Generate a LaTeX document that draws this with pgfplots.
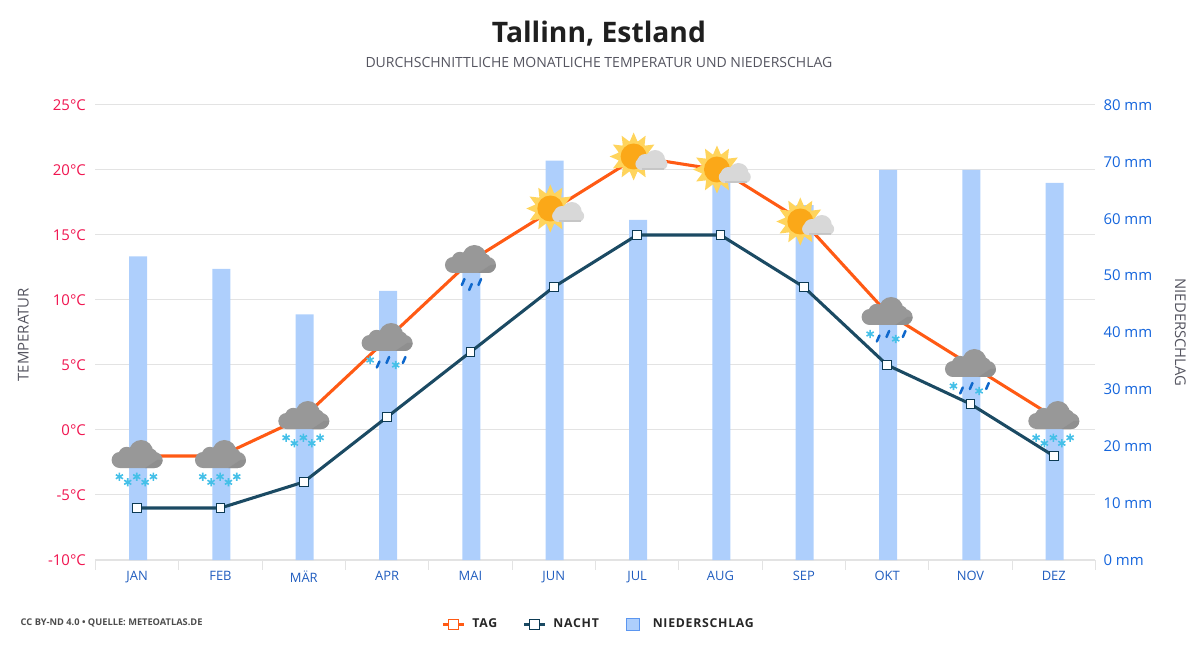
\documentclass[border=0pt]{standalone}
\usepackage{fontspec}
\usepackage{pgfplots}
\usepackage{pgfplotstable}
\pgfplotsset{compat=1.18}
\setmainfont{Open Sans}
\newfontfamily\lsfont[LetterSpace=6]{Open Sans}
\definecolor{gridc}{HTML}{E3E3E3}
\definecolor{barc}{HTML}{AECFFC}
\definecolor{barb}{HTML}{5B96F0}
\definecolor{tagc}{HTML}{FF5A14}
\definecolor{nachtc}{HTML}{1B4A63}
\definecolor{nachtl}{HTML}{0C3A54}
\definecolor{leftc}{HTML}{F0144F}
\definecolor{rightc}{HTML}{1565DC}
\definecolor{catc}{HTML}{1F5CBE}
\definecolor{greyt}{HTML}{555560}
\definecolor{cloudc}{HTML}{989898}
\definecolor{cloudd}{HTML}{8F8F8F}
\definecolor{snowc}{HTML}{45C0E8}
\definecolor{rainc}{HTML}{0F68CC}
\definecolor{rayc}{HTML}{FFD45C}
\definecolor{corec}{HTML}{FBA818}
\definecolor{scloud}{HTML}{D8D8D8}
\definecolor{scloudd}{HTML}{C6C6C6}

\pgfplotstableread{
x  mm    tag nacht
0  53.4  -2  -6
1  51.2  -2  -6
2  43.2   1  -4
3  47.3   7   1
4  52.0  13   6
5  70.2  17  11
6  59.8  21  15
7  67.0  20  15
8  62.4  16  11
9  68.6   9   5
10 68.6   5   2
11 66.3   1  -2
}\datatab

\newcommand\pc[3]{\pgfpathcircle{\pgfpoint{#1*0.75pt}{#2*0.75pt}}{#3*0.75pt}}
\newcommand\cloudshape{%
  \pgfsetfillcolor{cloudc}%
  \pc{-17.5}{-4}{8}\pc{17.5}{-4}{8}\pc{4}{4}{12}\pc{-10.5}{1}{8.2}\pc{12}{-1}{9}%
  \pgfpathrectangle{\pgfpoint{-17.5*0.75pt}{-12*0.75pt}}{\pgfpoint{35*0.75pt}{10*0.75pt}}%
  \pgfpathrectangle{\pgfpoint{-11*0.75pt}{-4*0.75pt}}{\pgfpoint{20*0.75pt}{8*0.75pt}}%
  \pgfusepath{fill}%
  \pgfsetfillcolor{cloudd}%
  \pgfpathmoveto{\pgfpoint{8*0.75pt}{-12*0.75pt}}%
  \pgfpathlineto{\pgfpoint{17.5*0.75pt}{-12*0.75pt}}%
  \pgfpathcurveto{\pgfpoint{22*0.75pt}{-12*0.75pt}}{\pgfpoint{25.5*0.75pt}{-8*0.75pt}}{\pgfpoint{25.5*0.75pt}{-4*0.75pt}}%
  \pgfpathlineto{\pgfpoint{20*0.75pt}{-4*0.75pt}}%
  \pgfpathclose\pgfusepath{fill}%
}
\newcommand\flake[2]{%
  \begin{pgfscope}%
  \pgfsetstrokecolor{snowc}\pgfsetlinewidth{1.2pt}%
  \pgftransformshift{\pgfpoint{#1*0.75pt}{#2*0.75pt}}%
  \foreach \a in {90,150,210}{%
    \pgfpathmoveto{\pgfpointpolar{\a}{3.1pt}}%
    \pgfpathlineto{\pgfpointpolar{\a+180}{3.1pt}}%
  }%
  \pgfusepath{stroke}%
  \end{pgfscope}%
}
\newcommand\rain[2]{%
  \begin{pgfscope}%
  \pgfsetstrokecolor{rainc}\pgfsetlinewidth{1.9pt}\pgfsetroundcap%
  \pgfpathmoveto{\pgfpoint{(#1-1.3)*0.75pt}{(#2-3)*0.75pt}}%
  \pgfpathlineto{\pgfpoint{(#1+1.3)*0.75pt}{(#2+3)*0.75pt}}%
  \pgfusepath{stroke}%
  \end{pgfscope}%
}
\pgfdeclareplotmark{iconsnow}{%
  \cloudshape
  \flake{-17.7}{-20.7}\flake{-9.4}{-26.3}\flake{-0.4}{-20.7}\flake{8}{-26.3}\flake{16.3}{-20.7}%
}
\pgfdeclareplotmark{iconsleet}{%
  \cloudshape
  \flake{-17}{-21}\rain{-9}{-25.5}\rain{0.7}{-21}\flake{8.6}{-26}\rain{17}{-21}%
}
\pgfdeclareplotmark{iconrain}{%
  \cloudshape
  \rain{-7.3}{-21}\rain{0}{-26}\rain{9.3}{-21}%
}
\pgfdeclareplotmark{iconsun}{%
  \begin{pgfscope}%
  \pgftransformshift{\pgfpoint{-3.5*0.75pt}{0.5*0.75pt}}%
  \pgfsetfillcolor{rayc}%
  \pgfpathmoveto{\pgfpointpolar{0}{18pt}}%
  \foreach \a in {0,30,...,330}{%
    \pgfpathlineto{\pgfpointpolar{\a}{18pt}}%
    \pgfpathlineto{\pgfpointpolar{\a+15}{11.5pt}}%
  }%
  \pgfpathclose\pgfusepath{fill}%
  \pc{0}{0}{15.5}\pgfusepath{fill}%
  \pgfsetfillcolor{corec}%
  \pc{0}{0}{13}\pgfusepath{fill}%
  \end{pgfscope}%
  \pgfsetfillcolor{scloud}%
  \pc{18}{-3}{10}\pc{8}{-5}{8}\pc{4.3}{-7}{6}\pc{24.3}{-7}{6}%
  \pgfpathrectangle{\pgfpoint{4.3*0.75pt}{-13*0.75pt}}{\pgfpoint{20*0.75pt}{7*0.75pt}}%
  \pgfusepath{fill}%
  \pgfsetfillcolor{scloudd}%
  \pgfpathrectangle{\pgfpoint{5*0.75pt}{-13*0.75pt}}{\pgfpoint{22*0.75pt}{1.5*0.75pt}}%
  \pgfusepath{fill}%
}

\pgfplotsset{
  common/.style={
    at={(0pt,0pt)}, anchor=south west,
    scale only axis, width=750pt, height=341.25pt,
    xmin=-0.5, xmax=11.5, clip=false,
  },
  legline/.style={legend image code/.code={\draw[mark repeat=2,mark phase=2,line width=2.2pt,##1,mark options={fill=white,draw=#1,line width=0.8pt,mark size=3.7pt}] plot coordinates {(0pt,0pt)(8pt,0pt)(16pt,0pt)};}},
  legbox/.style={legend image code/.code={\path (0pt,0pt) (15.5pt,0pt);\draw[##1] (1.5pt,-4.7pt) rectangle (11pt,4.7pt);}},
}
\begin{document}
\begin{tikzpicture}
\useasboundingbox (-71.6pt,-67.5pt) rectangle (828.4pt,420pt);
% Temperature axis: grid, left labels, month labels
\begin{axis}[common,
  ymin=-10, ymax=25,
  axis x line*=bottom, axis y line*=left,
  x axis line style={color=gridc, line width=0.9pt, -},
  y axis line style={draw=none},
  ytick={-10,-5,0,5,10,15,20,25},
  yticklabels={-10°C,-5°C,0°C,5°C,10°C,15°C,20°C,25°C},
  ymajorgrids, major grid style={color=gridc, line width=0.75pt},
  major tick length=0pt,
  y tick label style={font=\fontsize{11.2pt}{13pt}\selectfont, text=leftc, xshift=-3.7pt},
  xtick={0,...,11},
  xticklabels={JAN,FEB,MÄR,APR,MAI,JUN,JUL,AUG,SEP,OKT,NOV,DEZ},
  x tick label style={font=\fontsize{9.7pt}{12pt}\selectfont, text=catc, yshift=-4.6pt},
  minor xtick={-0.5,0.5,...,11.5},
  minor tick length=7.5pt,
  minor tick style={color=gridc, line width=0.75pt, yshift=-7.5pt},
  ylabel={TEMPERATUR},
  every axis y label/.style={at={(axis description cs:-0.072,0.495)},rotate=90,anchor=center,
     font=\fontsize{11.2pt}{13pt}\selectfont, text=greyt},
]
\end{axis}
% Precipitation axis: bars, right labels
\begin{axis}[common,
  ymin=0, ymax=80,
  axis x line=none,
  axis y line*=right,
  y axis line style={draw=none},
  ytick={0,10,20,30,40,50,60,70,80},
  yticklabels={0 mm,10 mm,20 mm,30 mm,40 mm,50 mm,60 mm,70 mm,80 mm},
  major tick length=0pt,
  y tick label style={font=\fontsize{11.2pt}{13pt}\selectfont, text=rightc, xshift=2.5pt},
  ylabel={NIEDERSCHLAG},
  every axis y label/.style={at={(axis description cs:1.085,0.5)},rotate=-90,anchor=center,
     font=\fontsize{11.1pt}{13pt}\selectfont, text=greyt},
]
\addplot[ybar, bar width=13.5pt, bar shift=0.7pt, fill=barc, draw=none] table[x=x,y=mm] {\datatab};
\end{axis}
% Line axis: series, icons, legend, titles
\begin{axis}[common,
  ymin=-10, ymax=25,
  hide axis,
  legend columns=3,
  legend cell align=left,
  legend style={at={(axis description cs:0.346,-0.1417)}, anchor=west, draw=none, fill=none,
    font=\lsfont\bfseries\fontsize{9.2pt}{11pt}\selectfont, text=black!85,
    inner sep=0pt, outer sep=0pt,
    nodes={inner xsep=5pt, inner ysep=0pt},
    /tikz/every even column/.append style={column sep=14pt}},
]
\addplot[color=tagc, line width=2.3pt, mark=square*,
   mark options={fill=white, draw=tagc, line width=0.8pt, mark size=3.25pt}, legline=tagc]
   table[x=x,y=tag] {\datatab};
\addlegendentry{TAG}
\addplot[color=nachtc, line width=2.3pt, mark=square*,
   mark options={fill=white, draw=nachtl, line width=0.8pt, mark size=3.25pt}, legline=nachtl]
   table[x=x,y=nacht] {\datatab};
\addlegendentry{NACHT}
\addlegendimage{draw=barb, fill=barc, line width=0.9pt, legbox}
\addlegendentry{NIEDERSCHLAG}
\addplot[only marks, mark=iconsnow, forget plot] coordinates {(0,-2)(1,-2)(2,1)(11,1)};
\addplot[only marks, mark=iconsleet, forget plot] coordinates {(3,7)(9,9)(10,5)};
\addplot[only marks, mark=iconrain, forget plot] coordinates {(4,13)};
\addplot[only marks, mark=iconsun, forget plot] coordinates {(5,17)(6,21)(7,20)(8,16)};
\node[anchor=center, font=\bfseries\fontsize{21.2pt}{25pt}\selectfont, text=black!88] at (axis description cs:0.5035,1.158) {Tallinn, Estland};
\node[anchor=center, font=\fontsize{10.52pt}{12pt}\selectfont, text=greyt] at (axis description cs:0.5035,1.094) {DURCHSCHNITTLICHE MONATLICHE TEMPERATUR UND NIEDERSCHLAG};
\node[anchor=west, font=\bfseries\fontsize{6.95pt}{8pt}\selectfont, text=black!70, inner sep=0pt] at (axis description cs:-0.075,-0.139) {CC BY-ND 4.0 • QUELLE: METEOATLAS.DE};
\end{axis}
\end{tikzpicture}
\end{document}
